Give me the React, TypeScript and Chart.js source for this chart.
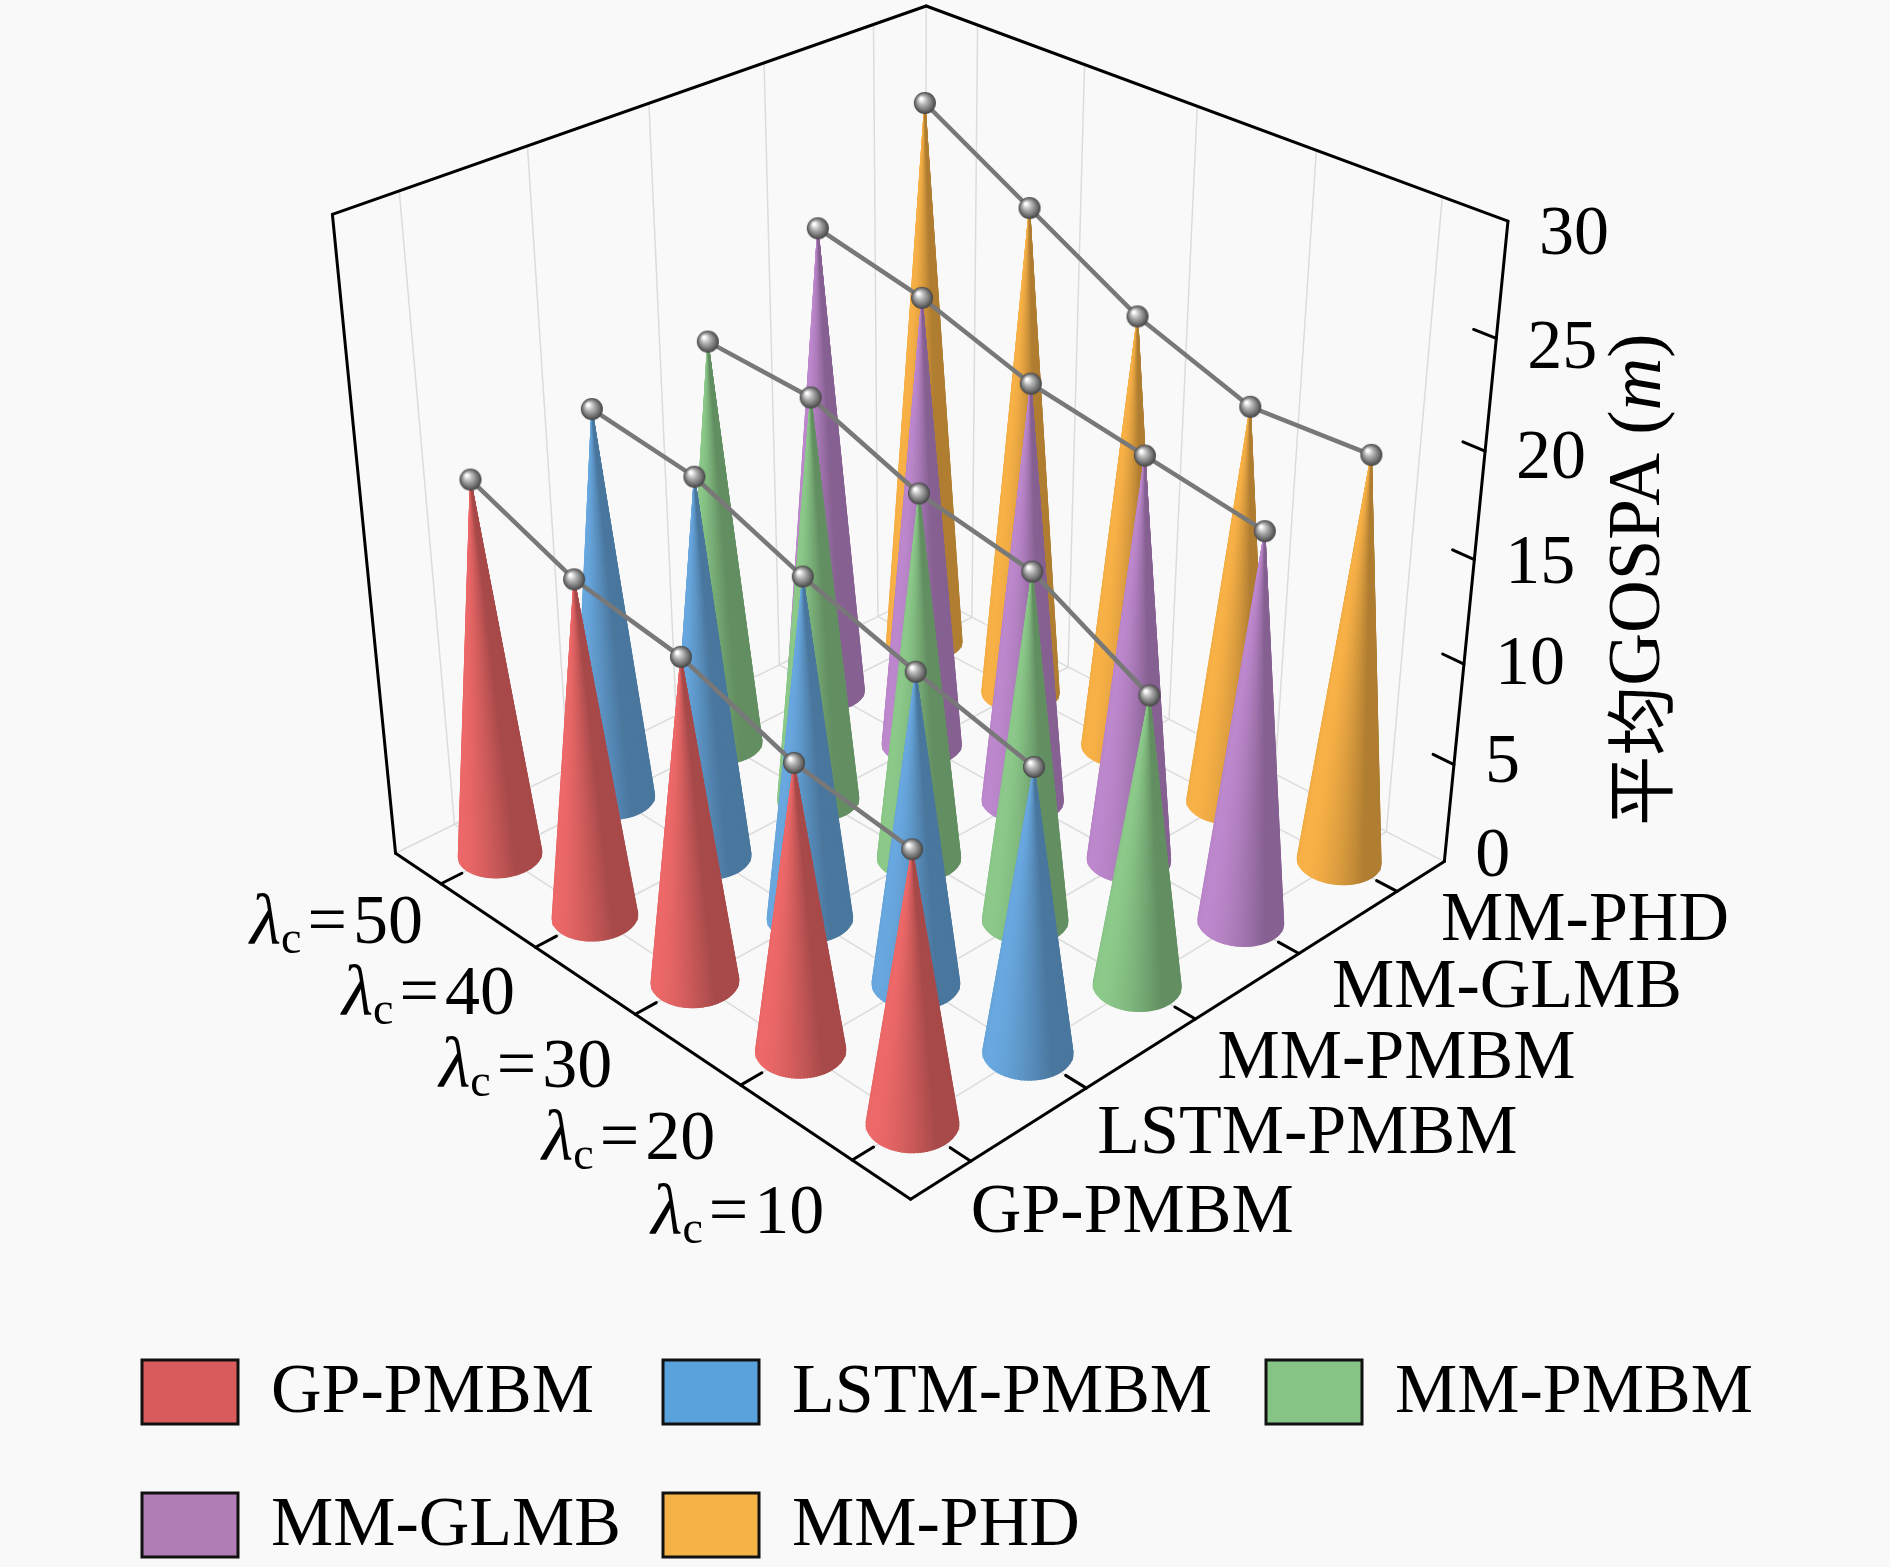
import { useEffect, useRef } from "react"
import { Chart, registerables } from "chart.js"

Chart.register(...registerables)

const methods = ["GP-PMBM", "LSTM-PMBM", "MM-PMBM", "MM-GLMB", "MM-PHD"]
const clutterRates = [10, 20, 30, 40, 50]
// average GOSPA (m), ordered lambda_c = 10 ... 50
const gpPmbm = [12.9, 13.7, 15.6, 16.4, 18.4]
const lstmPmbm = [13.6, 15.0, 16.6, 18.6, 19.3]
const mmPmbm = [14.0, 16.9, 17.9, 19.9, 20.2]
const mmGlmb = [18.8, 19.7, 20.6, 22.3, 23.4]
const mmPhd = [19.8, 19.6, 21.5, 24.4, 27.3]
const zTicks = [0, 5, 10, 15, 20, 25, 30]

const series = [gpPmbm, lstmPmbm, mmPmbm, mmGlmb, mmPhd]
const coneColors = [
  [240, 106, 106],
  [106, 170, 226],
  [142, 204, 140],
  [192, 138, 208],
  [252, 180, 72],
]
const legendColors = ["#d95b5b", "#5aa2dc", "#86c486", "#b07db5", "#f5b347"]

const W = 1890
const H = 1567
const Z_MAX = 30
const FONT = '"Liberation Serif", "Noto Sans CJK SC", serif'

// camera looking at the box (unit floor, height BOX_H)
const AZ = (45.8 * Math.PI) / 180
const EL = (31.03 * Math.PI) / 180
const BOX_H = 0.989
const DIST = 4.471
const FX = 3505
const FY = 3363.5
const CX = 919
const CY = 555.8
const CONE_R = 0.056

type V3 = [number, number, number]
type Part = [string, string, number, number?]
const R: V3 = [Math.sin(AZ), -Math.cos(AZ), 0]
const U: V3 = [Math.sin(EL) * Math.cos(AZ), Math.sin(EL) * Math.sin(AZ), Math.cos(EL)]
const FW: V3 = [Math.cos(EL) * Math.cos(AZ), Math.cos(EL) * Math.sin(AZ), -Math.sin(EL)]
const CAM: V3 = [0.5 - DIST * FW[0], 0.5 - DIST * FW[1], BOX_H / 2 - DIST * FW[2]]

const dot = (a: number[], b: number[]) => a[0] * b[0] + a[1] * b[1] + a[2] * b[2]
const slot = (i: number) => (i + 0.5) / 5
const zOf = (v: number) => (v / Z_MAX) * BOX_H

function project(x: number, y: number, z: number) {
  const p = [x - 0.5, y - 0.5, z - BOX_H / 2]
  const d = DIST + dot(p, FW)
  return { x: CX + (FX * dot(p, R)) / d, y: CY - (FY * dot(p, U)) / d, d }
}

function norm(v: number[]) {
  const l = Math.hypot(v[0], v[1], v[2])
  return [v[0] / l, v[1] / l, v[2] / l]
}
const LIGHT = norm([
  -0.75 * R[0] + 0.25 * U[0] - 0.6 * FW[0],
  -0.75 * R[1] + 0.25 * U[1] - 0.6 * FW[1],
  -0.75 * R[2] + 0.25 * U[2] - 0.6 * FW[2],
])

function makeSphere(r: number) {
  const c = document.createElement("canvas")
  c.width = c.height = 2 * r + 2
  const g = c.getContext("2d")!
  const o = r + 1
  const grad = g.createRadialGradient(o - r * 0.35, o - r * 0.4, r * 0.1, o, o, r)
  grad.addColorStop(0, "#ffffff")
  grad.addColorStop(0.35, "#b5b5b5")
  grad.addColorStop(0.8, "#686868")
  grad.addColorStop(1, "#424242")
  g.fillStyle = grad
  g.beginPath()
  g.arc(o, o, r, 0, Math.PI * 2)
  g.fill()
  return c
}

// text made of parts [text, font, dy, extra space on both sides]
function drawText(ctx: CanvasRenderingContext2D, parts: Part[], x: number, y: number, align: "left" | "right" | "center") {
  let total = 0
  for (const [t, f, , pad = 0] of parts) {
    ctx.font = f
    total += ctx.measureText(t).width + 2 * pad
  }
  let cx = align === "left" ? x : align === "right" ? x - total : x - total / 2
  ctx.textAlign = "left"
  ctx.textBaseline = "middle"
  for (const [t, f, dy, pad = 0] of parts) {
    ctx.font = f
    ctx.fillText(t, cx + pad, y + dy)
    cx += ctx.measureText(t).width + 2 * pad
  }
}

const scene = {
  id: "scene3d",
  beforeDatasetsDraw(chart: any) {
    const ctx: CanvasRenderingContext2D = chart.ctx
    const sx = chart.scales.x
    const sy = chart.scales.y
    const pix = (x: number, y: number, z: number) => {
      const p = project(x, y, z)
      return [sx.getPixelForValue(p.x), sy.getPixelForValue(p.y)]
    }
    const seg = (a: V3, b: V3, color: string, width: number) => {
      const p = pix(...a)
      const q = pix(...b)
      ctx.strokeStyle = color
      ctx.lineWidth = width
      ctx.beginPath()
      ctx.moveTo(p[0], p[1])
      ctx.lineTo(q[0], q[1])
      ctx.stroke()
    }

    ctx.save()
    ctx.lineCap = "round"
    // grid on floor and back walls
    const grid = "#dcdcdc"
    for (let i = 0; i < 5; i++) {
      const s = slot(i)
      seg([s, 0, 0], [s, 1, 0], grid, 1.5)
      seg([0, s, 0], [1, s, 0], grid, 1.5)
      seg([s, 1, 0], [s, 1, BOX_H], grid, 1.5)
      seg([1, s, 0], [1, s, BOX_H], grid, 1.5)
    }
    seg([0, 1, 0], [1, 1, 0], grid, 1.5)
    seg([1, 0, 0], [1, 1, 0], grid, 1.5)
    seg([1, 1, 0], [1, 1, BOX_H], grid, 1.5)

    // box outline
    const edge = "#000000"
    seg([0, 1, BOX_H], [1, 1, BOX_H], edge, 3)
    seg([1, 1, BOX_H], [1, 0, BOX_H], edge, 3)
    seg([0, 1, 0], [0, 1, BOX_H], edge, 3)
    seg([1, 0, 0], [1, 0, BOX_H], edge, 3)
    seg([0, 1, 0], [0, 0, 0], edge, 3)
    seg([0, 0, 0], [1, 0, 0], edge, 3)
    const tick = 0.035
    for (let i = 0; i < 5; i++) {
      seg([0, slot(i), 0], [tick, slot(i), 0], edge, 3)
      seg([slot(i), 0, 0], [slot(i), tick, 0], edge, 3)
    }
    for (const t of zTicks) {
      if (t === 0 || t === Z_MAX) continue
      seg([1, 0, zOf(t)], [1, tick, zOf(t)], edge, 3)
    }

    // cones, far to near
    const order: { m: number; l: number; d: number }[] = []
    series.forEach((vals, m) => vals.forEach((_, l) => order.push({ m, l, d: project(slot(m), slot(l), 0).d })))
    order.sort((a, b) => b.d - a.d)
    const N = 90
    for (const { m, l } of order) {
      const cu = slot(m)
      const cv = slot(l)
      const h = zOf(series[m][l])
      const tip = pix(cu, cv, h)
      const base: number[][] = []
      for (let i = 0; i <= N; i++) {
        const a = (i / N) * Math.PI * 2
        base.push(pix(cu + CONE_R * Math.cos(a), cv + CONE_R * Math.sin(a), 0))
      }
      const col = coneColors[m]
      for (let i = 0; i < N; i++) {
        const a = ((i + 0.5) / N) * Math.PI * 2
        const n = norm([h * Math.cos(a), h * Math.sin(a), CONE_R])
        const mid = [cu + 0.5 * CONE_R * Math.cos(a), cv + 0.5 * CONE_R * Math.sin(a), h / 2]
        const toCam = [CAM[0] - mid[0], CAM[1] - mid[1], CAM[2] - mid[2]]
        if (dot(n, toCam) <= 0) continue
        const diff = Math.max(0, dot(n, LIGHT))
        const s = 0.7 + 0.32 * diff
        const c = `rgb(${Math.min(255, col[0] * s)},${Math.min(255, col[1] * s)},${Math.min(255, col[2] * s)})`
        ctx.fillStyle = c
        ctx.strokeStyle = c
        ctx.lineWidth = 1.2
        ctx.beginPath()
        ctx.moveTo(tip[0], tip[1])
        ctx.lineTo(base[i][0], base[i][1])
        ctx.lineTo(base[i + 1][0], base[i + 1][1])
        ctx.closePath()
        ctx.fill()
        ctx.stroke()
      }
    }

    // tick labels
    ctx.fillStyle = "#000"
    const reg = `70px ${FONT}`
    clutterRates.forEach((c, i) => {
      const p = pix(0, slot(i), 0)
      drawText(
        ctx,
        [["λ", `italic 72px ${FONT}`, 0], ["c", `46px ${FONT}`, 16], ["=", reg, 0, 6], [String(c), reg, 0]],
        p[0] - 28 + 2.5 * i,
        p[1] + 55 - 3.5 * i + 6 * Math.sin((Math.PI * i) / 4),
        "right",
      )
    })
    methods.forEach((name, i) => {
      const p = pix(slot(i), 0, 0)
      drawText(ctx, [[name, reg, 0]], p[0] + 44 - 11 * (4 - i), p[1] + 30 + 5.5 * (4 - i), "left")
    })
    for (const t of zTicks) {
      const p = pix(1, 0, zOf(t))
      drawText(ctx, [[String(t), reg, 0]], p[0] + 31, p[1] + (t / Z_MAX) * 18 - 4, "left")
    }
    const mid = pix(1, 0, BOX_H / 2)
    ctx.save()
    ctx.translate(mid[0] + 166, mid[1] + 20)
    ctx.rotate(-Math.PI / 2)
    drawText(
      ctx,
      [["平均", `70px "Noto Sans CJK SC", sans-serif`, 0], ["GOSPA (", `73px ${FONT}`, 0], ["m", `italic 73px ${FONT}`, 0], [")", `73px ${FONT}`, 0]],
      0,
      0,
      "center",
    )
    ctx.restore()
    ctx.restore()
  },
  afterDraw(chart: any) {
    const ctx: CanvasRenderingContext2D = chart.ctx
    ctx.save()
    ctx.font = `70px ${FONT}`
    ctx.textBaseline = "middle"
    ctx.textAlign = "left"
    const cols = [142, 663, 1266]
    methods.forEach((name, i) => {
      const x = cols[i % 3]
      const cy = i < 3 ? 1392 : 1525
      ctx.fillStyle = legendColors[i]
      ctx.fillRect(x, cy - 32, 96, 64)
      ctx.strokeStyle = "#111"
      ctx.lineWidth = 3
      ctx.strokeRect(x, cy - 32, 96, 64)
      ctx.fillStyle = "#000"
      ctx.fillText(name, x + 129, cy + 2)
    })
    ctx.restore()
  },
}

export default function App() {
  const canvasRef = useRef<HTMLCanvasElement>(null)

  useEffect(() => {
    if (!canvasRef.current) return
    const sphere = makeSphere(11)
    const chart = new Chart(canvasRef.current, {
      type: "scatter",
      data: {
        datasets: series.map((vals, m) => ({
          label: methods[m],
          data: vals.map((v, l) => {
            const p = project(slot(m), slot(l), zOf(v))
            return { x: p.x, y: p.y }
          }),
          showLine: true,
          borderColor: "#787878",
          borderWidth: 4.5,
          pointStyle: sphere,
          pointRadius: 11,
          clip: false,
        })),
      },
      options: {
        responsive: false,
        devicePixelRatio: 1,
        animation: false,
        layout: { padding: 0, autoPadding: false },
        scales: {
          x: { type: "linear", min: 0, max: W, display: false },
          y: { type: "linear", min: 0, max: H, reverse: true, display: false },
        },
        plugins: { legend: { display: false }, tooltip: { enabled: false } },
        events: [],
      },
      plugins: [scene],
    })
    return () => chart.destroy()
  }, [])

  return (
    <div style={{ position: "fixed", left: 0, top: 0, width: W, height: H, background: "#f9f9f9" }}>
      <canvas ref={canvasRef} width={W} height={H} />
    </div>
  )
}
